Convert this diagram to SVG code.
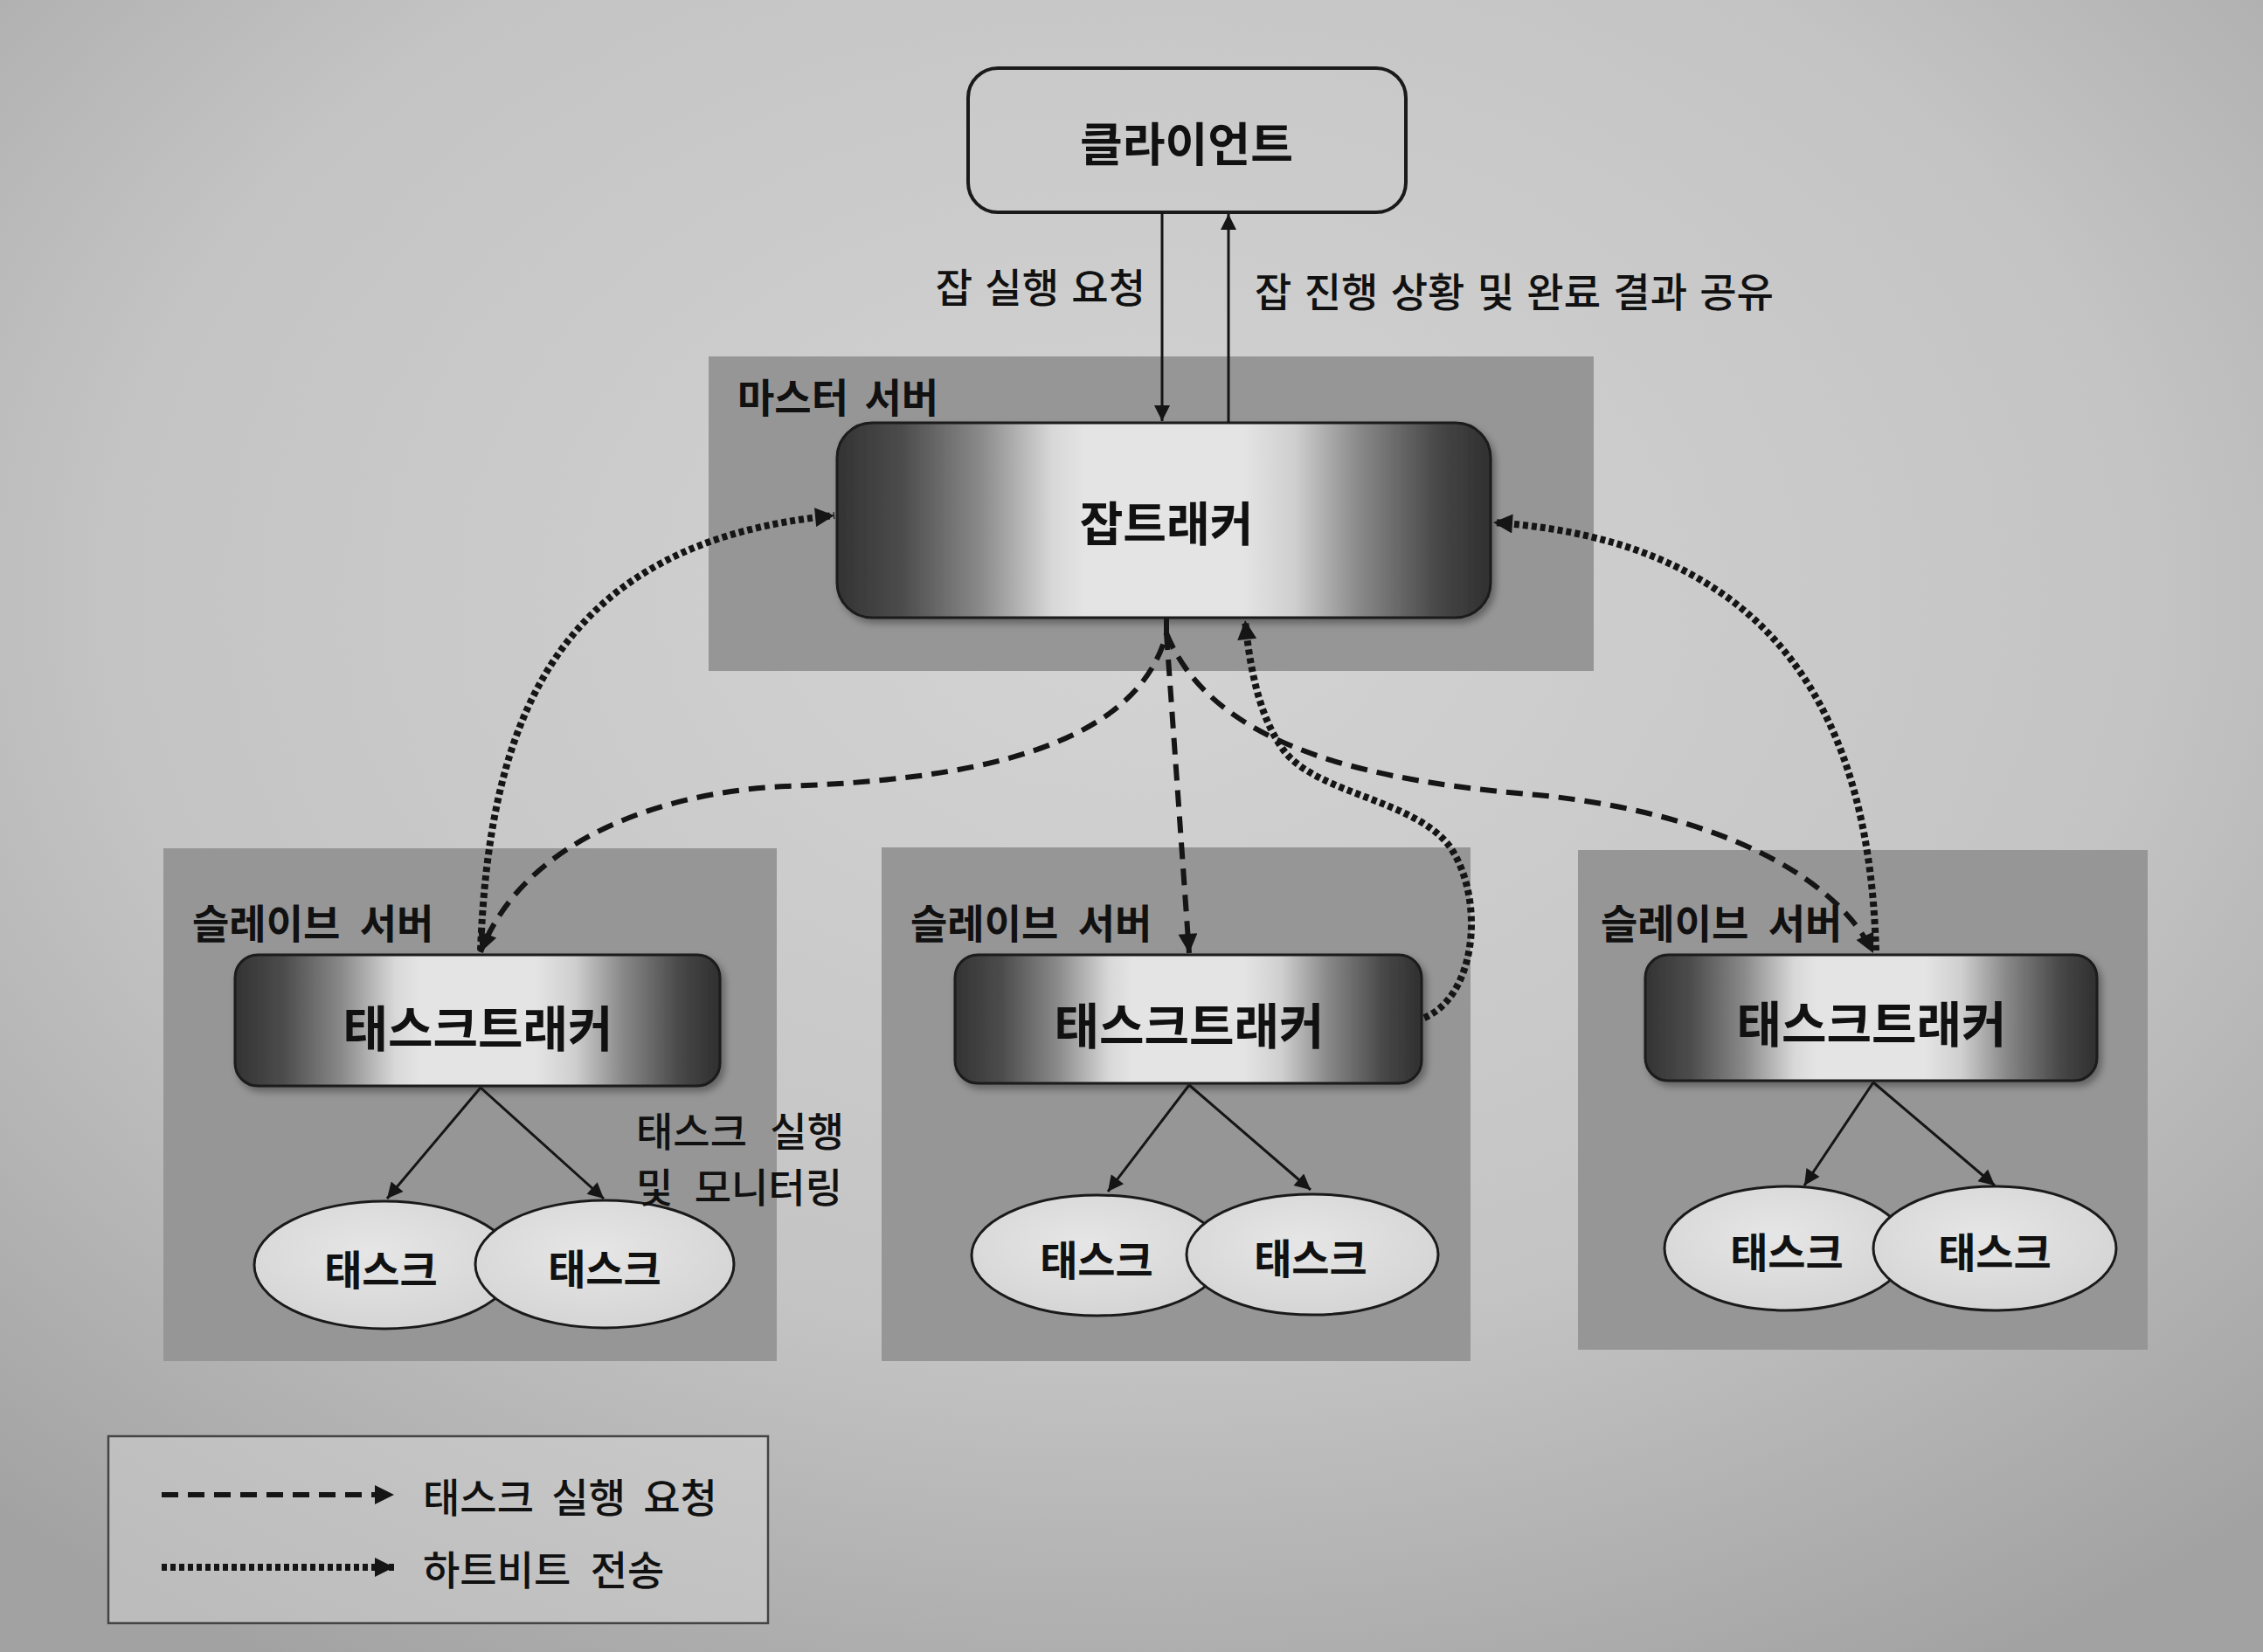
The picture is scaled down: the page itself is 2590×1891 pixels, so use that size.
<svg xmlns="http://www.w3.org/2000/svg" width="2590" height="1891" viewBox="0 0 2590 1891">
<defs>
<radialGradient id="page" cx="0.5" cy="0.36" r="0.75">
<stop offset="0" stop-color="#d4d4d4"/>
<stop offset="0.6" stop-color="#c4c4c4"/>
<stop offset="1" stop-color="#a2a2a2"/>
</radialGradient>
<linearGradient id="tracker" x1="0" y1="0" x2="1" y2="0">
<stop offset="0" stop-color="#333333"/>
<stop offset="0.1" stop-color="#4c4c4c"/>
<stop offset="0.22" stop-color="#8a8a8a"/>
<stop offset="0.33" stop-color="#d8d8d8"/>
<stop offset="0.38" stop-color="#e4e4e4"/>
<stop offset="0.62" stop-color="#e4e4e4"/>
<stop offset="0.7" stop-color="#cfcfcf"/>
<stop offset="0.8" stop-color="#888888"/>
<stop offset="0.92" stop-color="#474747"/>
<stop offset="1" stop-color="#2f2f2f"/>
</linearGradient>
<radialGradient id="ell" cx="0.45" cy="0.4" r="0.7">
<stop offset="0" stop-color="#e6e6e6"/>
<stop offset="1" stop-color="#d2d2d2"/>
</radialGradient>
<filter id="shadow" x="-10%" y="-10%" width="125%" height="130%">
<feDropShadow dx="4" dy="5" stdDeviation="4" flood-color="#000" flood-opacity="0.35"/>
</filter>
<marker id="ah" viewBox="0 0 10 10" refX="10" refY="5" markerWidth="24" markerHeight="18" markerUnits="userSpaceOnUse" orient="auto">
<path d="M0,0 L10,5 L0,10 Z" fill="#151515"/>
</marker>
<marker id="ahb" viewBox="0 0 10 10" refX="10" refY="5" markerWidth="26" markerHeight="22" markerUnits="userSpaceOnUse" orient="auto">
<path d="M0,0 L10,5 L0,10 Z" fill="#151515"/>
</marker>
<style>
.region { fill: #969696; }
.tracker { fill: url(#tracker); stroke: #1a1a1a; stroke-width: 3; filter: url(#shadow); }
.task { fill: url(#ell); stroke: #1a1a1a; stroke-width: 3; }
.solid { fill: none; stroke: #151515; stroke-width: 3; marker-end: url(#ah); }
.dash { fill: none; stroke: #151515; stroke-width: 6; stroke-dasharray: 19 11; marker-end: url(#ahb); }
.dot { fill: none; stroke: #151515; stroke-width: 8; stroke-dasharray: 6 4; marker-end: url(#ahb); }
text { font-family: "Noto Sans CJK KR", "Noto Sans", sans-serif; fill: #111; dominant-baseline: central; }
.node { font-weight: 700; text-anchor: middle; }
.lbl { font-weight: 500; font-size: 46px; }
.srv { font-weight: 700; font-size: 46px; }
</style>
</defs>

<rect x="0" y="0" width="2590" height="1891" fill="url(#page)"/>

<g id="master-server">
<rect class="region" x="811" y="408" width="1013" height="360"/>
<text class="srv" x="844" y="452" word-spacing="8">마스터 서버</text>
</g>
<g id="slave-server-1">
<rect class="region" x="187" y="971" width="702" height="587"/>
<text class="srv" x="220" y="1054" word-spacing="12">슬레이브 서버</text>
</g>
<g id="slave-server-2">
<rect class="region" x="1009" y="970" width="674" height="588"/>
<text class="srv" x="1042" y="1054" word-spacing="12">슬레이브 서버</text>
</g>
<g id="slave-server-3">
<rect class="region" x="1806" y="973" width="652" height="572"/>
<text class="srv" x="1832" y="1054" word-spacing="12">슬레이브 서버</text>
</g>

<g id="client">
<rect x="1108" y="78" width="501" height="165" rx="34" ry="34" fill="#cdcdcd" fill-opacity="0.3" stroke="#1a1a1a" stroke-width="4"/>
<text class="node" x="1358" y="162" font-size="53">클라이언트</text>
</g>

<g id="jobtracker">
<rect class="tracker" x="958" y="484" width="748" height="223" rx="40" ry="40"/>
<text class="node" x="1335" y="596" font-size="54">잡트래커</text>
</g>

<g id="tasktracker-1">
<rect class="tracker" x="269" y="1093" width="555" height="150" rx="26" ry="26"/>
<text class="node" x="547" y="1173" font-size="56">태스크트래커</text>
</g>
<g id="tasktracker-2">
<rect class="tracker" x="1093" y="1093" width="534" height="147" rx="26" ry="26"/>
<text class="node" x="1361" y="1170" font-size="56">태스크트래커</text>
</g>
<g id="tasktracker-3">
<rect class="tracker" x="1883" y="1093" width="517" height="144" rx="26" ry="26"/>
<text class="node" x="2142" y="1168" font-size="56">태스크트래커</text>
</g>

<g id="task-1a">
<ellipse class="task" cx="440" cy="1448" rx="149" ry="73"/>
<text class="node" x="436" y="1450" font-size="47">태스크</text>
</g>
<g id="task-1b">
<ellipse class="task" cx="692" cy="1447" rx="148" ry="73"/>
<text class="node" x="692" y="1449" font-size="47">태스크</text>
</g>
<g id="task-2a">
<ellipse class="task" cx="1256" cy="1437" rx="144" ry="69"/>
<text class="node" x="1255" y="1439" font-size="47">태스크</text>
</g>
<g id="task-2b">
<ellipse class="task" cx="1502" cy="1436" rx="144" ry="69"/>
<text class="node" x="1500" y="1437" font-size="47">태스크</text>
</g>
<g id="task-3a">
<ellipse class="task" cx="2044" cy="1429" rx="139" ry="71"/>
<text class="node" x="2045" y="1430" font-size="47">태스크</text>
</g>
<g id="task-3b">
<ellipse class="task" cx="2283" cy="1429" rx="139" ry="71"/>
<text class="node" x="2283" y="1430" font-size="47">태스크</text>
</g>

<g id="connectors">
<path class="solid" d="M1330,243 L1330,482"/>
<path class="solid" d="M1406,484 L1406,245"/>
<text class="lbl" x="1311" y="326" text-anchor="end" word-spacing="4">잡 실행 요청</text>
<text class="lbl" x="1436" y="331" word-spacing="4">잡 진행 상황 및 완료 결과 공유</text>

<path class="dash" d="M1335,708 L1335,725 C1300,860 1100,893 900,900 C760,906 600,960 550,1090"/>
<path class="dash" d="M1335,725 L1361,1091"/>
<path class="dash" d="M1335,725 C1390,860 1580,895 1760,910 C1960,930 2100,1000 2144,1091"/>

<path class="dot" d="M550,1088 C560,820 640,620 955,590"/>
<path class="dot" d="M2147,1088 C2140,830 2040,620 1709,598"/>
<path class="dot" d="M1630,1165 C1690,1140 1700,1030 1660,970 C1620,915 1510,910 1470,860 C1440,820 1430,760 1425,710"/>

<path class="solid" d="M550,1245 L443,1372"/>
<path class="solid" d="M550,1245 L691,1372"/>
<path class="solid" d="M1361,1242 L1268,1364"/>
<path class="solid" d="M1361,1242 L1500,1362"/>
<path class="solid" d="M2144,1239 L2065,1357"/>
<path class="solid" d="M2144,1239 L2283,1357"/>
<text class="lbl" x="728" y="1292" font-size="42" word-spacing="16">태스크 실행</text>
<text class="lbl" x="728" y="1356" font-size="42" word-spacing="14">및 모니터링</text>
</g>

<g id="legend">
<rect x="124" y="1644" width="755" height="214" fill="#d6d6d6" fill-opacity="0.5" stroke="#444" stroke-width="2.5"/>
<path class="dash" d="M185,1711 L451,1711"/>
<path class="dot" d="M185,1794 L451,1794"/>
<text class="lbl" x="484" y="1711" font-size="47" word-spacing="10">태스크 실행 요청</text>
<text class="lbl" x="484" y="1794" font-size="47" word-spacing="12">하트비트 전송</text>
</g>
</svg>
